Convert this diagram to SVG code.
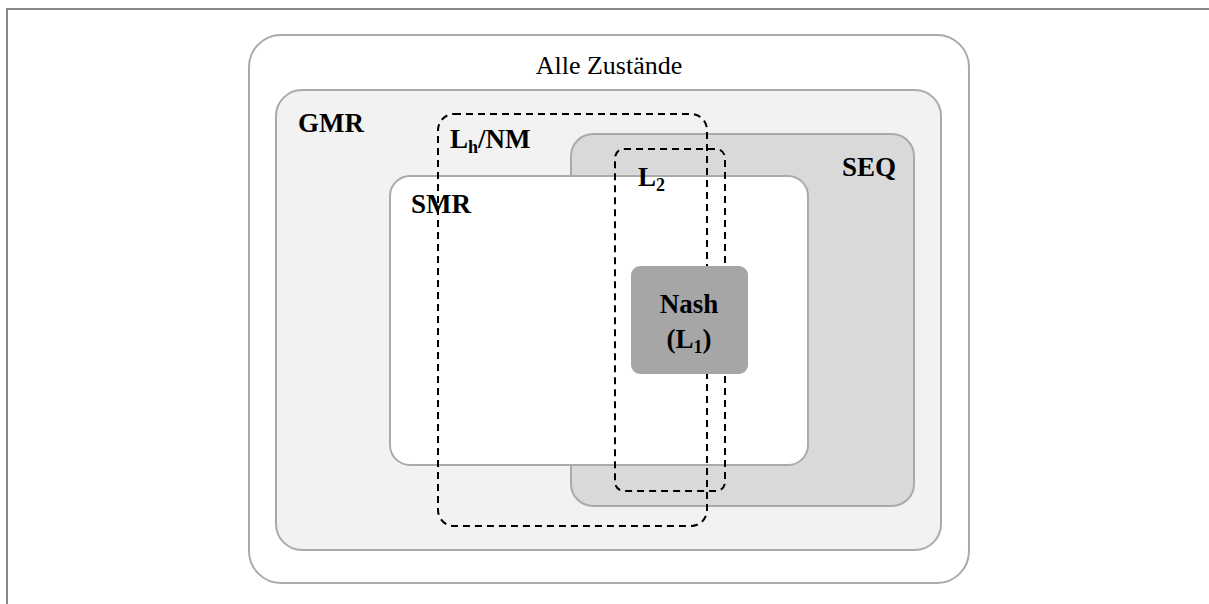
<svg xmlns="http://www.w3.org/2000/svg" width="1209" height="604" viewBox="0 0 1209 604">
<style>
.set{stroke:#aaaaaa;stroke-width:2}
.dash{fill:none;stroke:#000;stroke-width:2;stroke-dasharray:7 5}
.lbl{font-family:"Liberation Serif",serif;font-weight:bold;font-size:27px;fill:#000}
.sub{font-size:18px}
</style>
<rect x="0" y="0" width="1209" height="604" fill="#fff"/>
<rect x="7" y="9" width="1220" height="620" fill="none" stroke="#888" stroke-width="2"/>
<g id="alle">
<rect class="set" x="249" y="35" width="720" height="548" rx="32" fill="#fff"/>
<text x="609" y="74" text-anchor="middle" font-family="Liberation Serif,serif" font-size="26">Alle Zustände</text>
</g>
<g id="gmr">
<rect class="set" x="276" y="90" width="665" height="460" rx="26" fill="#f2f2f2"/>
<text class="lbl" x="298" y="132">GMR</text>
</g>
<g id="seq">
<rect class="set" x="571" y="134" width="343" height="372" rx="22" fill="#d9d9d9"/>
<text class="lbl" x="896" y="176" text-anchor="end">SEQ</text>
</g>
<g id="smr">
<rect class="set" x="390" y="176" width="418" height="289" rx="20" fill="#fff"/>
<text class="lbl" x="411" y="213">SMR</text>
</g>
<g id="connectors">
<rect id="lh" class="dash" x="438" y="114" width="269" height="412" rx="16"/>
<rect id="l2" class="dash" x="615" y="149" width="110" height="342" rx="9"/>
</g>
<g id="lh-label">
<text class="lbl" x="450" y="148">L<tspan class="sub" dy="5">h</tspan><tspan dy="-5">/NM</tspan></text>
</g>
<g id="l2-label">
<text class="lbl" x="638" y="186">L<tspan class="sub" dy="5">2</tspan></text>
</g>
<g id="nash">
<rect x="631" y="266" width="117" height="108" rx="9" fill="#a6a6a6"/>
<text class="lbl" x="689" y="313" text-anchor="middle">Nash</text>
<text class="lbl" x="689" y="348" text-anchor="middle">(L<tspan class="sub" dy="5">1</tspan><tspan dy="-5">)</tspan></text>
</g>
</svg>
